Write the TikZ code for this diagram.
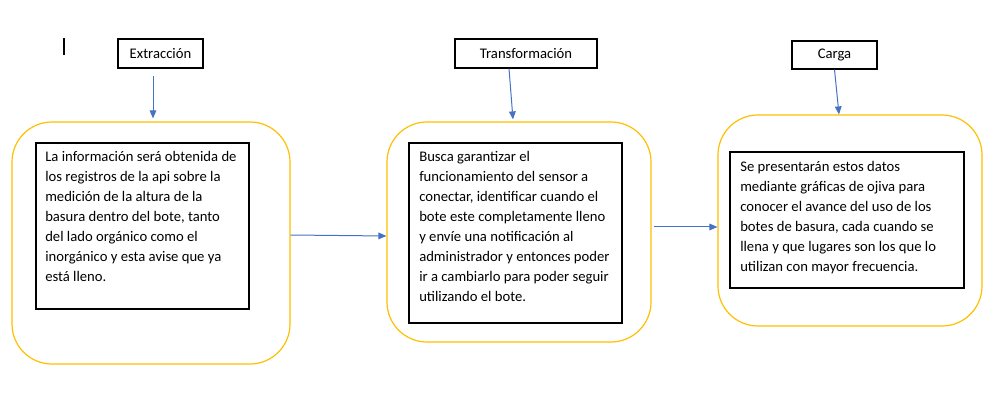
\documentclass[tikz,border=0pt]{standalone}
\usepackage{fontspec}
\setmainfont{Carlito}
\usetikzlibrary{arrows.meta,calc}
\definecolor{gold}{HTML}{FFC000}
\definecolor{arrblue}{HTML}{4472C4}
\begin{document}
\begin{tikzpicture}[x=0.75pt,y=-0.75pt,
  lbl/.style={draw=black,line width=0.9pt,font=\fontsize{11}{13}\selectfont,inner sep=0},
  outerbox/.style={draw=gold,line width=0.9pt,rounded corners=30pt,inner sep=0},
  innerbox/.style={draw=black,line width=0.9pt,inner sep=0},
  body/.style={anchor=north west,align=left,inner sep=0,font=\fontsize{11}{15}\selectfont},
  arr/.style={draw=arrblue,line width=0.75pt,-{Triangle[length=6pt,width=5pt]}}]
\useasboundingbox[fill=white] (0,0) rectangle (1003,420);
% text cursor
\coordinate (cur1) at (64,38);
\coordinate (cur2) at (64,55);
\draw[line width=0.8pt] (cur1) -- (cur2);
% labels
\node[lbl,minimum width=63.75pt,minimum height=21.75pt] (extr) at (160.5,53.5) {Extracción};
\node[lbl,minimum width=106.5pt,minimum height=21.75pt] (trans) at (526,53.5) {Transformación};
\node[lbl,minimum width=63.75pt,minimum height=21pt] (carga) at (834.5,55) {Carga};
% outer rounded boxes
\node[outerbox,minimum width=208.5pt,minimum height=181.5pt] (r1) at (151,243) {};
\node[outerbox,minimum width=198pt,minimum height=165pt] (r2) at (519,232) {};
\node[outerbox,minimum width=198pt,minimum height=158.25pt] (r3) at (850,220.5) {};
% inner boxes
\node[innerbox,minimum width=159.75pt,minimum height=124.5pt] (i1) at (142.5,226) {};
\node[innerbox,minimum width=159.75pt,minimum height=135pt] (i2) at (515.5,233) {};
\node[innerbox,minimum width=175.5pt,minimum height=102pt] (i3) at (847,220) {};
% texts
\node[body] (t1) at (45,151) {La información será obtenida de\\los registros de la api sobre la\\medición de la altura de la\\basura dentro del bote, tanto\\del lado orgánico como el\\inorgánico y esta avise que ya\\está lleno.};
\node[body] (t2) at (419,151) {Busca garantizar el\\funcionamiento del sensor a\\conectar, identificar cuando el\\bote este completamente lleno\\y envíe una notificación al\\administrador y entonces poder\\ir a cambiarlo para poder seguir\\utilizando el bote.};
\node[body] (t3) at (740,161) {Se presentarán estos datos\\mediante gráficas de ojiva para\\conocer el avance del uso de los\\botes de basura, cada cuando se\\llena y que lugares son los que lo\\utilizan con mayor frecuencia.};
% arrows
\draw[arr] ($(extr.south)+(-7.5,7)$) -- ($(r1.north)+(2,-3)$);
\draw[arr] ($(trans.south)+(-17,0)$) -- ($(r2.north)+(-6,-2)$);
\draw[arr] (carga.south) -- ($(r3.north)+(-11,0)$);
\draw[arr] ($(r1.east)+(0,-8)$) -- ($(r2.west)+(0,4)$);
\draw[arr] ($(r2.east)+(2,-5)$) -- ($(r3.west)+(0,6.5)$);
\end{tikzpicture}
\end{document}
